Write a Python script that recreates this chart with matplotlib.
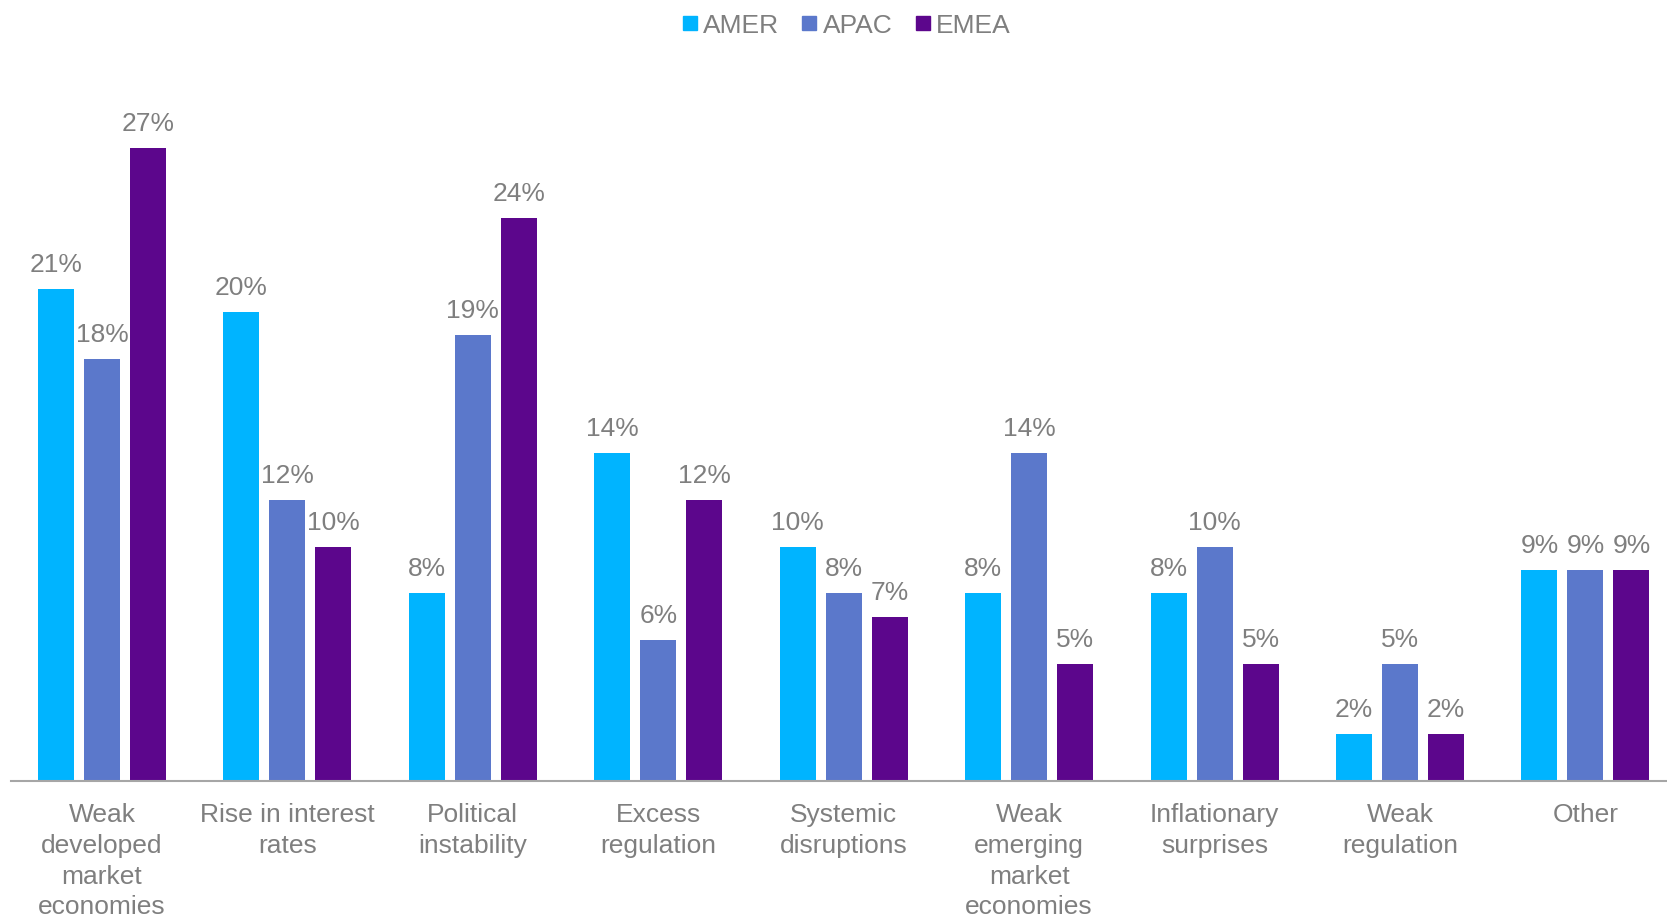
import matplotlib.pyplot as plt
import numpy as np
from matplotlib.lines import Line2D

plt.rcParams['font.family'] = ['Liberation Sans', 'DejaVu Sans']

categories = ['Weak\ndeveloped\nmarket\neconomies', 'Rise in interest\nrates',
              'Political\ninstability', 'Excess\nregulation', 'Systemic\ndisruptions',
              'Weak\nemerging\nmarket\neconomies', 'Inflationary\nsurprises',
              'Weak\nregulation', 'Other']
series = ['AMER', 'APAC', 'EMEA']
amer = [21, 20, 8, 14, 10, 8, 8, 2, 9]
apac = [18, 12, 19, 6, 8, 14, 10, 5, 9]
emea = [27, 10, 24, 12, 7, 5, 5, 2, 9]

colors = ['#00B4FF', '#5B78CB', '#5C068C']
grey = '#7F7F7F'

fig = plt.figure(figsize=(16.67, 9.16), dpi=100)
ax = fig.add_axes([0.00636, 0.1474, 0.99364, 0.7871])

x = np.arange(len(categories))
stride = 0.248
width = 0.194
for i, (vals, c) in enumerate(zip([amer, apac, emea], colors)):
    bars = ax.bar(x + (i - 1) * stride, vals, width, color=c)
    for b, v in zip(bars, vals):
        ax.annotate(f'{v}%', (b.get_x() + b.get_width() / 2, v),
                    xytext=(0, 12), textcoords='offset pixels',
                    ha='center', va='bottom', fontsize=19, color=grey)

ax.set_xlim(-0.493, 8.44)
ax.set_ylim(0, 30.75)
ax.set_xticks(x)
ax.set_xticklabels(categories, fontsize=19, color=grey, linespacing=1.35)
ax.tick_params(axis='x', length=0, pad=16)
ax.set_yticks([])
for s in ['top', 'right', 'left']:
    ax.spines[s].set_visible(False)
ax.spines['bottom'].set_color('#A6A6A6')
ax.spines['bottom'].set_linewidth(1.5)

handles = [Line2D([], [], marker='s', linestyle='none', markersize=9.5,
                  markerfacecolor=c, markeredgecolor=c) for c in colors]
leg = fig.legend(handles, series, loc='center', bbox_to_anchor=(0.508, 0.972),
                 ncol=3, frameon=False, fontsize=19, handlelength=0.5,
                 handletextpad=0.25, columnspacing=0.9)
for t in leg.get_texts():
    t.set_color(grey)

fig.savefig('out.png', dpi=100)
